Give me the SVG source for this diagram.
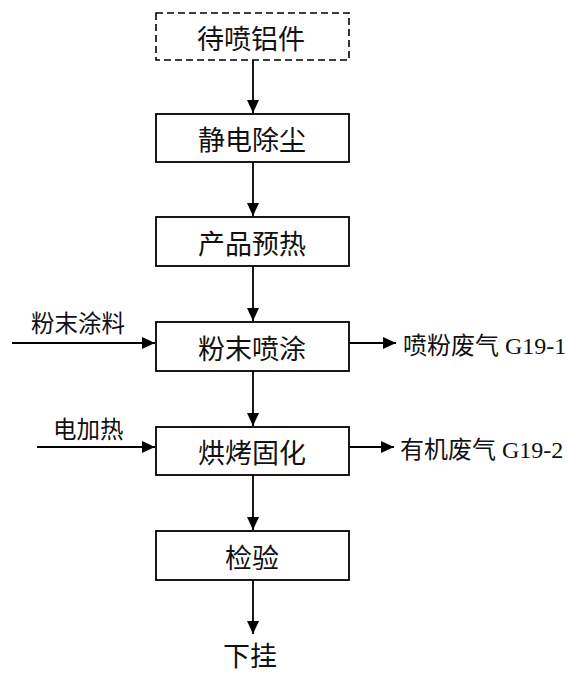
<svg xmlns="http://www.w3.org/2000/svg" width="569" height="673" viewBox="0 0 569 673">
<style>
.box{fill:#fff;stroke:#000;stroke-width:1.8}
.dash{fill:#fff;stroke:#000;stroke-width:1.6;stroke-dasharray:7 4}
.t{font-family:"Noto Sans CJK SC","Liberation Sans",sans-serif;font-size:27px;fill:#111;text-anchor:middle;dominant-baseline:central}
.l{font-family:"Liberation Serif","Noto Sans CJK SC",serif;font-size:23.5px;fill:#111;dominant-baseline:central}
.r{font-family:"Liberation Serif","Noto Sans CJK SC",serif;font-size:24px;fill:#111;dominant-baseline:central}
.c{stroke:#000;stroke-width:1.8;fill:none}
</style>
<defs>
<marker id="ah" markerWidth="13" markerHeight="12" refX="13" refY="6" orient="auto" markerUnits="userSpaceOnUse">
<path d="M0,0 L13,6 L0,12 Z" fill="#000"/>
</marker>
</defs>
<rect width="569" height="673" fill="#fff"/>
<g id="connectors">
<line class="c" x1="253" y1="60" x2="253" y2="113" marker-end="url(#ah)"/>
<line class="c" x1="253" y1="162" x2="253" y2="216" marker-end="url(#ah)"/>
<line class="c" x1="253" y1="266" x2="253" y2="321" marker-end="url(#ah)"/>
<line class="c" x1="253" y1="371" x2="253" y2="426" marker-end="url(#ah)"/>
<line class="c" x1="253" y1="475" x2="253" y2="530" marker-end="url(#ah)"/>
<line class="c" x1="253" y1="580" x2="253" y2="634" marker-end="url(#ah)"/>
<line class="c" x1="12" y1="343" x2="155" y2="343" marker-end="url(#ah)"/>
<line class="c" x1="37" y1="447" x2="155" y2="447" marker-end="url(#ah)"/>
<line class="c" x1="349" y1="343" x2="396" y2="343" marker-end="url(#ah)"/>
<line class="c" x1="349" y1="447" x2="394" y2="447" marker-end="url(#ah)"/>
</g>
<g id="n1"><rect class="dash" x="156" y="13" width="193" height="47"/><text class="t" x="251" y="37">待喷铝件</text></g>
<g id="n2"><rect class="box" x="156" y="114" width="193" height="48"/><text class="t" x="252" y="138">静电除尘</text></g>
<g id="n3"><rect class="box" x="156" y="217" width="193" height="49"/><text class="t" x="252" y="242">产品预热</text></g>
<g id="n4"><rect class="box" x="156" y="322" width="193" height="49"/><text class="t" x="252" y="347">粉末喷涂</text></g>
<g id="n5"><rect class="box" x="156" y="427" width="193" height="48"/><text class="t" x="252" y="451">烘烤固化</text></g>
<g id="n6"><rect class="box" x="156" y="531" width="193" height="49"/><text class="t" x="252" y="556">检验</text></g>
<g id="n7"><text class="t" x="250" y="654">下挂</text></g>
<g id="labels">
<text class="l" x="31" y="324">粉末涂料</text>
<text class="l" x="53" y="430">电加热</text>
<text class="r" x="403" y="346">喷粉废气 G19-1</text>
<text class="r" x="400" y="450">有机废气 G19-2</text>
</g>
</svg>
